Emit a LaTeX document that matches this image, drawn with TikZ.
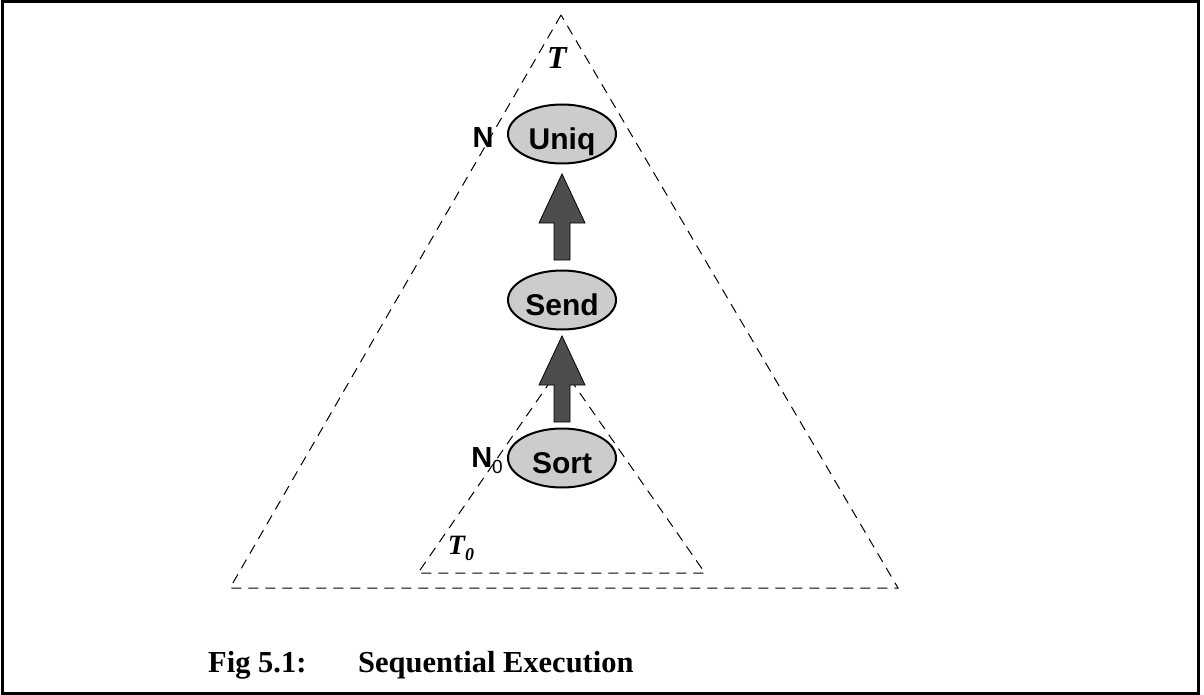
\documentclass[tikz,border=0pt]{standalone}
\usepackage{fontspec}
\setmainfont{Liberation Serif}
\setsansfont{Liberation Sans}
\usetikzlibrary{calc,shapes.geometric}

\definecolor{opfill}{HTML}{CCCCCC}
\definecolor{flowfill}{HTML}{4D4D4D}

% thick block arrow pointing from node #1 (below) up to node #2 (above)
\newcommand\fatarrow[2]{%
  \path ($(#1.north)!0.5!(#2.south)$) coordinate (m#1);
  \draw[flowarrow] ($(m#1)+(-8,43)$) -- ($(m#1)+(-8,6)$) -- ($(m#1)+(-23,6)$)
    -- ($(m#1)+(0,-43)$) -- ($(m#1)+(23,6)$) -- ($(m#1)+(8,6)$)
    -- ($(m#1)+(8,43)$) -- cycle;
}

\tikzset{
  treeline/.style={line width=1pt, dash pattern=on 10pt off 7pt},
  opnode/.style={ellipse, draw, line width=2pt, fill=opfill,
    minimum width=108pt, minimum height=59pt, inner sep=0pt,
    text height=30.5pt, text depth=0pt,
    font=\sffamily\bfseries\fontsize{30}{30}\selectfont},
  flowarrow/.style={draw=black, line width=0.8pt, fill=flowfill, line join=miter},
  treelabel/.style={inner sep=0pt, font=\bfseries\itshape},
  nodelabel/.style={inner sep=0pt, font=\sffamily\bfseries\fontsize{29}{29}\selectfont},
  captext/.style={inner sep=0pt, anchor=base west,
    font=\bfseries\fontsize{30.5}{30.5}\selectfont}
}

\begin{document}
\begin{tikzpicture}[x=1pt,y=-1pt]
  \useasboundingbox (0,0) rectangle (1204,695);
  \draw[line width=3pt] (2,2) rectangle (1198,693);

  % whole tree T and subtree T0
  \coordinate (tA) at (561,15);
  \coordinate (tL) at (230,588);
  \coordinate (tR) at (898,588);
  \draw[treeline] (tA) -- (tL) -- (tR) -- cycle;
  \coordinate (sA) at (561,366);
  \coordinate (sL) at (418,573);
  \coordinate (sR) at (705,573);
  \draw[treeline] (sA) -- (sL) -- (sR) -- cycle;

  % operators
  \node[opnode] (uniq) at (562,134) {Uniq};
  \node[opnode] (send) at (562,300) {Send};
  \node[opnode] (sort) at (562,458) {Sort};

  % data flow
  \fatarrow{send}{uniq}
  \fatarrow{sort}{send}

  % labels
  \node[treelabel, font=\bfseries\itshape\fontsize{32}{32}\selectfont] (lt) at (557,58) {T};
  \node[treelabel, font=\bfseries\itshape\fontsize{28}{28}\selectfont] (lt0) at (461,548)
    {T\raisebox{-0.22em}{\fontsize{18}{18}\selectfont 0}};
  \node[nodelabel] (ln) at (483,138) {N};
  \node[nodelabel] (ln0) at (487,461)
    {N\raisebox{-0.2em}{\mdseries\fontsize{19}{19}\selectfont 0}};

  % caption
  \node[captext] (capnum) at (208,672) {Fig 5.1:};
  \node[captext] (captitle) at (358,672) {Sequential Execution};
\end{tikzpicture}
\end{document}
